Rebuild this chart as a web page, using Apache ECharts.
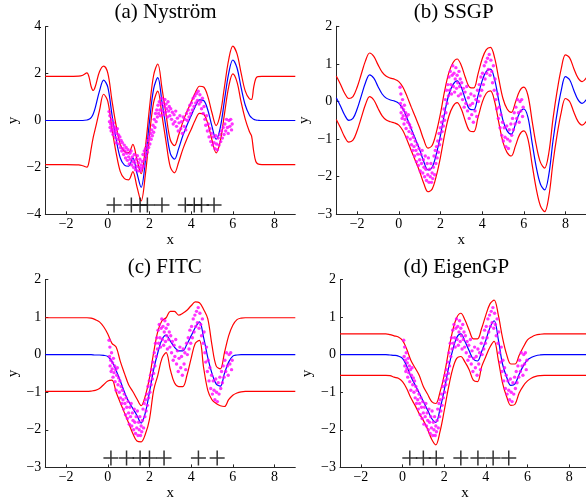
<!DOCTYPE html>
<html><head><meta charset="utf-8">
<script src="https://cdn.jsdelivr.net/npm/echarts@6/dist/echarts.min.js"></script>
<style>html,body{margin:0;padding:0;background:#fff}#c{width:586px;height:500px}</style>
</head><body><div id="c"></div>
<script>
// ---------- data ----------
const TITLES = ['(a) Nyström', '(b) SSGP', '(c) FITC', '(d) EigenGP'];
const X_TICKS = [-2, 0, 2, 4, 6, 8];

// training data (same in every panel)
const TRAIN_X = [0.06,0.08,0.10,0.11,0.14,0.16,0.18,0.21,0.23,0.25,0.27,0.30,0.33,0.35,0.38,0.40,0.43,0.46,0.49,0.52,0.55,0.58,0.61,0.64,0.67,0.70,0.73,0.76,0.79,0.82,0.85,0.88,0.91,0.94,0.97,1.00,1.03,1.06,1.09,1.12,1.15,1.18,1.21,1.24,1.27,1.30,1.33,1.36,1.39,1.42,1.45,1.48,1.51,1.54,1.57,1.60,1.63,1.66,1.69,1.72,1.75,1.78,1.81,1.84,1.87,1.90,1.93,1.96,1.99,2.02,2.05,2.08,2.11,2.14,2.17,2.20,2.23,2.26,2.29,2.32,2.35,2.38,2.41,2.44,2.47,2.50,2.53,2.56,2.59,2.62,2.65,2.68,2.71,2.74,2.77,2.80,2.83,2.86,2.89,2.92,2.95,2.98,3.02,3.06,3.10,3.14,3.18,3.22,3.26,3.30,3.34,3.38,3.42,3.46,3.50,3.54,3.58,3.62,3.66,3.70,3.74,3.78,3.82,3.86,3.90,3.94,3.98,4.02,4.06,4.10,4.14,4.18,4.22,4.26,4.30,4.34,4.38,4.42,4.46,4.50,4.54,4.58,4.62,4.66,4.70,4.74,4.78,4.82,4.86,4.90,4.94,4.98,5.02,5.06,5.10,5.14,5.18,5.22,5.26,5.30,5.34,5.38,5.42,5.46,5.50,5.54,5.58,5.62,5.66,5.70,5.74,5.78,5.82,5.86,5.90,5.94,5.97];
const TRAIN_Y = [0.38,-0.05,0.20,-0.30,-0.15,-0.45,0.05,-0.38,-0.22,-0.60,-0.10,-0.48,-0.30,-0.72,-0.40,-0.95,-0.55,-0.35,-0.80,-0.62,-1.00,-0.70,-1.15,-0.85,-1.30,-0.95,-1.20,-1.45,-1.05,-1.30,-1.60,-1.15,-1.40,-1.70,-1.25,-1.55,-1.85,-1.40,-1.65,-1.30,-1.90,-1.55,-1.75,-2.00,-1.45,-1.80,-2.10,-1.65,-1.95,-1.50,-2.15,-1.80,-2.00,-1.65,-2.15,-1.90,-2.05,-1.75,-1.45,-1.95,-1.30,-1.65,-1.20,-1.50,-1.05,-1.35,-0.85,-1.15,-0.70,-1.00,-0.55,-0.80,-0.40,-0.65,-0.20,-0.50,0.05,-0.30,0.30,-0.05,0.45,0.15,0.65,0.30,0.80,0.45,0.20,0.70,0.95,0.40,0.75,0.25,0.60,0.90,0.35,0.70,0.50,0.15,0.80,0.40,0.60,0.20,0.50,0.05,0.35,-0.15,0.25,-0.05,0.40,-0.25,0.10,-0.45,-0.10,0.20,-0.35,-0.05,-0.55,0.15,-0.25,0.05,-0.40,0.30,0.00,0.45,0.15,0.65,0.30,0.75,0.45,0.95,0.60,1.05,0.75,1.15,0.85,1.25,0.70,1.10,0.80,0.50,0.95,0.30,0.60,0.05,-0.20,0.20,-0.45,-0.15,-0.70,-0.35,-0.90,-0.55,-1.05,-0.70,-0.95,-1.20,-0.65,-1.00,-1.25,-0.75,-1.05,-0.60,-0.90,-0.45,-0.75,-0.30,-0.60,-0.15,-0.45,0.05,-0.30,-0.55,0.00,-0.25,0.05,-0.40,-0.15];

// (a) Nyström
const X_A = [-3,-2,-1.4,-1.2,-1.0,-0.9,-0.8,-0.7,-0.6,-0.4,-0.2,0,0.2,0.4,0.6,0.8,1.0,1.2,1.4,1.6,1.8,2.0,2.2,2.4,2.6,2.8,3.0,3.2,3.4,3.6,3.8,4.0,4.2,4.4,4.6,4.8,5.0,5.2,5.4,5.6,5.8,6.0,6.2,6.4,6.6,6.8,6.9,7.0,7.1,7.2,7.4,8,9];
const MEAN_A = [0,0,0,0,0.02,0.05,0.12,0.28,0.55,1.25,1.72,1.42,0.25,-0.80,-1.60,-1.90,-1.95,-1.60,-2.25,-2.85,-1.75,-0.05,1.35,1.83,0.80,-0.35,-1.40,-1.65,-1.20,-0.65,-0.20,0.20,0.60,0.88,0.85,0.45,-0.25,-0.80,-0.30,0.86,2.00,2.58,2.25,1.40,0.65,0.22,0.12,0.05,0.02,0.01,0,0,0];
const UP_A = [1.88,1.88,1.89,1.93,2.03,1.85,1.45,1.28,1.45,2.08,2.32,2.02,0.85,-0.22,-1.02,-1.32,-1.37,-1.02,-1.67,-2.27,-1.17,0.53,1.93,2.41,1.38,0.23,-0.82,-1.07,-0.62,-0.07,0.38,0.78,1.18,1.46,1.43,1.03,0.33,-0.22,0.28,1.44,2.58,3.17,2.85,2.02,1.25,0.92,0.90,1.40,1.78,1.87,1.88,1.88,1.88];
const LO_A = [-1.88,-1.88,-1.89,-1.93,-1.99,-1.75,-1.21,-0.72,-0.35,0.42,1.12,0.82,-0.35,-1.38,-2.18,-2.48,-2.53,-2.18,-2.83,-3.43,-2.33,-0.63,0.77,1.25,0.22,-0.93,-1.98,-2.23,-1.78,-1.23,-0.78,-0.38,0.02,0.30,0.27,-0.13,-0.83,-1.38,-0.88,0.28,1.42,1.99,1.65,0.78,0.05,-0.48,-0.66,-1.30,-1.74,-1.85,-1.88,-1.88,-1.88];
const IND_A_X = [0.3,1.13,1.55,1.9,2.6,3.72,4.15,4.5,5.1];
const IND_A_Y = -3.6;

// shared grid for (b), (c), (d): -3 .. 9 step 0.2
const X_G = [-3.0,-2.8,-2.6,-2.4,-2.2,-2.0,-1.8,-1.6,-1.4,-1.2,-1.0,-0.8,-0.6,-0.4,-0.2,0.0,0.2,0.4,0.6,0.8,1.0,1.2,1.4,1.6,1.8,2.0,2.2,2.4,2.6,2.8,3.0,3.2,3.4,3.6,3.8,4.0,4.2,4.4,4.6,4.8,5.0,5.2,5.4,5.6,5.8,6.0,6.2,6.4,6.6,6.8,7.0,7.2,7.4,7.6,7.8,8.0,8.2,8.4,8.6,8.8,9.0];

// (b) SSGP
const MEAN_B = [0.10,-0.12,-0.36,-0.50,-0.45,-0.20,0.15,0.50,0.71,0.62,0.40,0.20,0.09,0.04,0.01,-0.05,-0.20,-0.45,-0.73,-1.00,-1.28,-1.60,-1.82,-1.75,-1.40,-0.90,-0.30,0.18,0.45,0.55,0.38,0.05,-0.20,-0.22,0.15,0.55,0.80,0.86,0.58,0.02,-0.50,-0.78,-0.87,-0.60,-0.30,-0.20,-0.42,-1.10,-1.75,-2.20,-2.35,-1.95,-1.05,-0.30,0.30,0.66,0.58,0.30,0.05,-0.05,0.05];
const UP_B = [0.68,0.46,0.22,0.08,0.13,0.38,0.73,1.08,1.29,1.20,0.98,0.78,0.67,0.62,0.59,0.53,0.38,0.13,-0.15,-0.42,-0.70,-1.02,-1.24,-1.17,-0.82,-0.32,0.28,0.76,1.03,1.13,0.96,0.63,0.38,0.36,0.73,1.13,1.38,1.44,1.16,0.60,0.08,-0.20,-0.29,-0.02,0.28,0.38,0.16,-0.52,-1.17,-1.62,-1.77,-1.37,-0.47,0.28,0.88,1.24,1.16,0.88,0.63,0.53,0.63];
const LO_B = [-0.48,-0.70,-0.94,-1.08,-1.03,-0.78,-0.43,-0.08,0.13,0.04,-0.18,-0.38,-0.49,-0.54,-0.57,-0.63,-0.78,-1.03,-1.31,-1.58,-1.86,-2.18,-2.40,-2.33,-1.98,-1.48,-0.88,-0.40,-0.13,-0.03,-0.20,-0.53,-0.78,-0.80,-0.43,-0.03,0.22,0.28,0.00,-0.56,-1.08,-1.36,-1.45,-1.18,-0.88,-0.78,-1.00,-1.68,-2.33,-2.78,-2.93,-2.53,-1.63,-0.88,-0.28,0.08,0.00,-0.28,-0.53,-0.63,-0.53];

// (c) FITC
const MEAN_C = [0,0,0,0,0,0,0,0,0,0,0,0,-0.01,-0.01,-0.02,-0.05,-0.18,-0.42,-0.70,-1.00,-1.25,-1.43,-1.62,-1.82,-1.55,-1.00,-0.40,0.05,0.40,0.52,0.36,0.20,0.10,0.10,0.28,0.50,0.72,0.87,0.45,-0.08,-0.50,-0.78,-0.84,-0.50,-0.20,-0.04,-0.01,0,0,0,0,0,0,0,0,0,0,0,0,0,0];
const UP_C = [0.98,0.98,0.98,0.98,0.98,0.98,0.98,0.98,0.98,0.98,0.98,0.97,0.93,0.87,0.74,0.55,0.30,0.20,-0.18,-0.50,-0.80,-0.98,-1.18,-1.36,-1.10,-0.62,0.05,0.62,0.90,0.98,1.15,1.15,1.05,1.10,1.18,1.30,1.40,1.38,1.20,0.95,0.25,-0.30,-0.38,0.05,0.50,0.78,0.93,0.97,0.98,0.98,0.98,0.98,0.98,0.98,0.98,0.98,0.98,0.98,0.98,0.98,0.98];
const LO_C = [-0.98,-0.98,-0.98,-0.98,-0.98,-0.98,-0.98,-0.98,-0.98,-0.98,-0.98,-0.97,-0.95,-0.90,-0.80,-0.70,-0.68,-1.00,-1.28,-1.55,-1.82,-2.10,-2.30,-2.32,-2.12,-1.72,-0.95,-0.55,-0.10,0.05,-0.40,-0.75,-0.85,-0.85,-0.55,-0.10,0.30,0.38,-0.35,-0.95,-1.20,-1.30,-1.36,-1.38,-1.20,-1.08,-1.02,-0.99,-0.98,-0.98,-0.98,-0.98,-0.98,-0.98,-0.98,-0.98,-0.98,-0.98,-0.98,-0.98,-0.98];
const IND_C_X = [0.15,0.9,1.55,2.0,2.7,4.35,5.25];
const IND_C_Y = -2.75;

// (d) EigenGP
const MEAN_D = [0,0,0,0,0,0,0,0,0,0,0,0,-0.01,-0.02,-0.04,-0.10,-0.30,-0.58,-0.80,-1.02,-1.25,-1.47,-1.70,-1.80,-1.45,-0.95,-0.38,0.10,0.45,0.55,0.35,0.10,-0.12,-0.17,0.08,0.38,0.72,0.90,0.40,-0.25,-0.60,-0.82,-0.78,-0.52,-0.30,-0.14,-0.07,-0.03,-0.01,0,0,0,0,0,0,0,0,0,0,0,0];
const UP_D = [0.55,0.55,0.55,0.55,0.55,0.55,0.55,0.55,0.55,0.55,0.55,0.55,0.53,0.50,0.47,0.38,0.15,-0.15,-0.35,-0.55,-0.85,-1.05,-1.25,-1.30,-1.00,-0.55,0.05,0.62,0.98,1.10,0.92,0.65,0.42,0.42,0.70,1.05,1.35,1.45,1.05,0.45,0.00,-0.25,-0.25,-0.02,0.20,0.39,0.47,0.52,0.54,0.55,0.55,0.55,0.55,0.55,0.55,0.55,0.55,0.55,0.55,0.55,0.55];
const LO_D = [-0.55,-0.55,-0.55,-0.55,-0.55,-0.55,-0.55,-0.55,-0.55,-0.55,-0.55,-0.55,-0.56,-0.60,-0.63,-0.72,-0.90,-1.15,-1.35,-1.57,-1.75,-1.98,-2.25,-2.40,-2.05,-1.50,-0.90,-0.40,-0.10,-0.05,-0.20,-0.40,-0.68,-0.72,-0.32,-0.05,0.20,0.35,-0.15,-0.75,-1.12,-1.35,-1.32,-1.02,-0.83,-0.70,-0.62,-0.58,-0.56,-0.55,-0.55,-0.55,-0.55,-0.55,-0.55,-0.55,-0.55,-0.55,-0.55,-0.55,-0.55];
const IND_D_X = [0.35,1.0,1.62,2.8,3.62,4.35,5.1];
const IND_D_Y = -2.75;

// ---------- chart ----------
const FONT = 'Liberation Serif';
const AXIS_COLOR = '#262626';
const zip = (xs, ys) => xs.map((x, i) => [x, ys[i]]);
const fmt = v => String(v).replace('-', '\u2212');

const panels = [
  {grid: {left: 45.3, top: 26.7, width: 250, height: 187.6}, y: [-4, 4, 2], x: X_A, m: MEAN_A, u: UP_A, l: LO_A, ind: IND_A_X, indY: IND_A_Y, tx: 165.5, ty: 12},
  {grid: {left: 336.3, top: 26.3, width: 250, height: 188}, y: [-3, 2, 1], x: X_G, m: MEAN_B, u: UP_B, l: LO_B, ind: null, tx: 453.7, ty: 12},
  {grid: {left: 45.3, top: 279.4, width: 250, height: 188}, y: [-3, 2, 1], x: X_G, m: MEAN_C, u: UP_C, l: LO_C, ind: IND_C_X, indY: IND_C_Y, tx: 164.7, ty: 267},
  {grid: {left: 340, top: 279.4, width: 250, height: 188}, y: [-3, 2, 1], x: X_G, m: MEAN_D, u: UP_D, l: LO_D, ind: IND_D_X, indY: IND_D_Y, tx: 456.3, ty: 267}
];

const grids = [], xAxes = [], yAxes = [], series = [], graphics = [];
panels.forEach((p, i) => {
  grids.push(Object.assign({containLabel: false, outerBoundsMode: 'none', show: false}, p.grid));
  xAxes.push({
    gridIndex: i, type: 'value', min: -3, max: 9,
    axisLine: {show: true, onZero: false, lineStyle: {color: AXIS_COLOR, width: 1}},
    axisTick: {show: true, inside: true, length: 3, customValues: X_TICKS, lineStyle: {color: AXIS_COLOR}},
    axisLabel: {customValues: X_TICKS, formatter: fmt, fontFamily: FONT, fontSize: 14, color: '#000', margin: 3},
    splitLine: {show: false},
    name: 'x', nameLocation: 'middle', nameGap: 18,
    nameTextStyle: {fontFamily: FONT, fontSize: 15, color: '#000'}
  });
  yAxes.push({
    gridIndex: i, type: 'value', min: p.y[0], max: p.y[1], interval: p.y[2],
    axisLine: {show: true, onZero: false, lineStyle: {color: AXIS_COLOR, width: 1}},
    axisTick: {show: true, inside: true, length: 3, lineStyle: {color: AXIS_COLOR}},
    axisLabel: {formatter: fmt, fontFamily: FONT, fontSize: 14, color: '#000', margin: 4},
    splitLine: {show: false},
    name: 'y', nameLocation: 'middle', nameGap: 25,
    nameTextStyle: {fontFamily: FONT, fontSize: 15, color: '#000'}
  });
  const base = {xAxisIndex: i, yAxisIndex: i, silent: true, animation: false};
  const line = (data, color) => Object.assign({
    type: 'line', data, symbol: 'none', showSymbol: false, smooth: 0.35,
    lineStyle: {color, width: 1.2}, z: 2
  }, base);
  series.push(line(zip(p.x, p.u), '#ff0000'));
  series.push(line(zip(p.x, p.l), '#ff0000'));
  series.push(line(zip(p.x, p.m), '#0000ff'));
  series.push(Object.assign({
    type: 'scatter', data: zip(TRAIN_X, TRAIN_Y), symbol: 'circle', symbolSize: 3.4,
    itemStyle: {color: '#ff00ff'}, z: 3
  }, base));
  if (p.ind) {
    series.push(Object.assign({
      type: 'scatter', data: p.ind.map(x => [x, p.indY]),
      symbol: 'path://M9,0H11V9H20V11H11V20H9V11H0V9H9Z', symbolSize: 15,
      itemStyle: {color: '#000'}, z: 4
    }, base));
  }
  graphics.push({
    type: 'text', x: p.tx, y: p.ty,
    style: {text: TITLES[i], font: '21px "Liberation Serif"', fill: '#000', align: 'center', verticalAlign: 'middle', textAlign: 'center', textVerticalAlign: 'middle'}
  });
});

const chart = echarts.init(document.getElementById('c'), null, {renderer: 'canvas'});
chart.setOption({
  animation: false,
  backgroundColor: '#fff',
  grid: grids, xAxis: xAxes, yAxis: yAxes, series, graphic: graphics
});
</script>
</body></html>
